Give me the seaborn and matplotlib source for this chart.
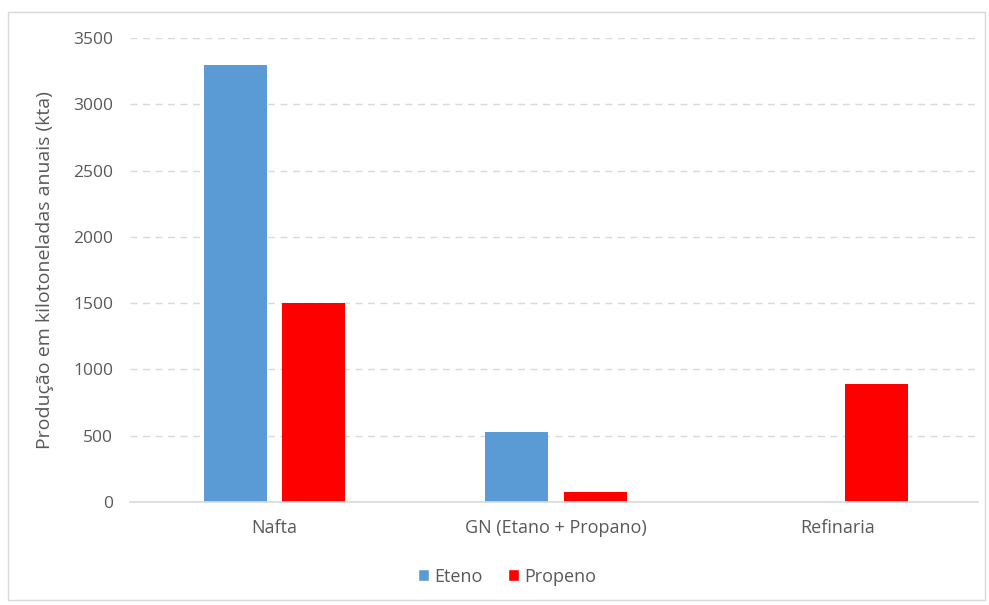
import matplotlib
matplotlib.use("Agg")
import matplotlib.pyplot as plt
import seaborn as sns
import pandas as pd
from matplotlib.patches import Rectangle, Patch

categories = ["Nafta", "GN (Etano + Propano)", "Refinaria"]
series = ["Eteno", "Propeno"]
eteno = [3300, 525, 0]
propeno = [1500, 75, 890]
yticks = [0, 500, 1000, 1500, 2000, 2500, 3000, 3500]

df = pd.DataFrame({
    "cat": categories * 2,
    "serie": ["Eteno"] * 3 + ["Propeno"] * 3,
    "val": eteno + propeno,
})

sns.set_theme(style="white")
plt.rcParams["font.family"] = ["Open Sans", "DejaVu Sans"]
txt = "#595959"

fig = plt.figure(figsize=(9.89, 6.05), dpi=100)
ax = fig.add_axes([130 / 989, 1 - 502 / 605, 848 / 989, 464 / 605])
sns.barplot(data=df, x="cat", y="val", hue="serie", order=categories,
            hue_order=series, palette={"Eteno": "#5B9BD5", "Propeno": "#FF0000"},
            width=0.558, gap=0.2, ax=ax, legend=False, saturation=1,
            edgecolor="none")
ax.set_ylim(0, 3500)
ax.set_xlim(-0.514, 2.5)
ax.set_yticks(yticks)
ax.set_yticklabels([str(v) for v in yticks])
ax.yaxis.grid(True, color="#d9d9d9", linestyle=(0, (5, 4)), linewidth=1)
ax.set_axisbelow(True)
for s in ["top", "right", "left"]:
    ax.spines[s].set_visible(False)
ax.spines["bottom"].set_color("#d9d9d9")
ax.spines["bottom"].set_linewidth(1.2)
ax.tick_params(axis="y", length=0, labelsize=12.5, colors=txt, pad=12)
ax.tick_params(axis="x", length=0, labelsize=13, colors=txt, pad=12)
ax.set_xlabel("")
ax.set_ylabel("Produção em kilotoneladas anuais (kta)", fontsize=14, color=txt, labelpad=14)

handles = [Patch(facecolor="#5B9BD5"), Patch(facecolor="#FF0000")]
fig.legend(handles, series, loc="center", bbox_to_anchor=(0.513, 0.047), ncol=2,
           frameon=False, fontsize=13, labelcolor=txt, handlelength=0.6,
           handleheight=0.6, handletextpad=0.3, columnspacing=1.4)

fig.patches.append(Rectangle((8 / 989, 1 - 600 / 605), 977 / 989, 588 / 605,
                             transform=fig.transFigure, fill=False,
                             edgecolor="#d9d9d9", linewidth=1))
fig.savefig("out.png", dpi=100)
